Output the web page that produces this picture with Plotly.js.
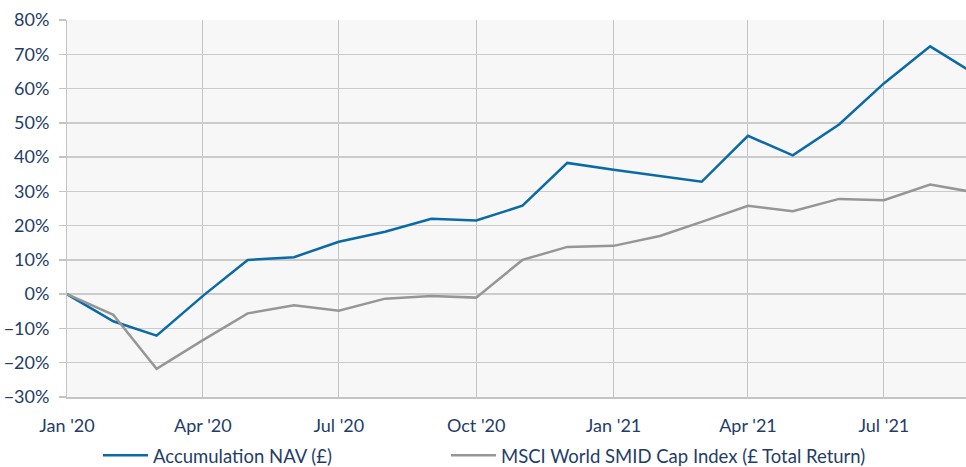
<!DOCTYPE html>
<html>
<head>
<meta charset="utf-8">
<script src="https://cdn.plot.ly/plotly-3.0.1.min.js"></script>
<style>html,body{margin:0;padding:0;background:#fff;}#chart{width:966px;height:467px;}</style>
</head>
<body>
<div id="chart"></div>
<script>
const dates = ["2020-01-01","2020-02-01","2020-03-01","2020-04-01","2020-05-01","2020-06-01","2020-07-01","2020-08-01","2020-09-01","2020-10-01","2020-11-01","2020-12-01","2021-01-01","2021-02-01","2021-03-01","2021-04-01","2021-05-01","2021-06-01","2021-07-01","2021-08-01","2021-09-01"];
const accumulationNAV = [0, -7.9, -12.1, -0.5, 10.0, 10.8, 15.3, 18.2, 22.0, 21.5, 25.8, 38.3, 36.3, 34.5, 32.8, 46.2, 40.5, 49.5, 61.5, 72.3, 64.0];
const msciSMID = [0, -6.0, -21.8, -13.4, -5.6, -3.2, -4.8, -1.3, -0.5, -1.0, 10.0, 13.8, 14.1, 17.0, 21.1, 25.8, 24.2, 27.8, 27.4, 32.0, 29.6];
const seriesNames = ["Accumulation NAV (£)", "MSCI World SMID Cap Index (£ Total Return)"];

const toFrac = a => a.map(v => v / 100);
const textColor = "#1f3d68";
const font = {family: "Lato, 'Open Sans', sans-serif", size: 18, color: textColor};
const legendFont = {family: "Lato, 'Open Sans', sans-serif", size: 18.5, color: textColor};

const traces = [
  {x: dates, y: toFrac(accumulationNAV), name: seriesNames[0], type: "scatter", mode: "lines",
   line: {color: "#0a6aa7", width: 2.5}, legend: "legend"},
  {x: dates, y: toFrac(msciSMID), name: seriesNames[1], type: "scatter", mode: "lines",
   line: {color: "#969696", width: 2.5}, legend: "legend2"}
];

const legendBase = {orientation: "h", xanchor: "left", yanchor: "middle", xref: "container", yref: "container",
                    y: 0.024, font: legendFont, itemwidth: 45, bgcolor: "rgba(0,0,0,0)", borderwidth: 0};

const layout = {
  width: 966, height: 467,
  margin: {l: 67, r: 0, t: 20, b: 70},
  paper_bgcolor: "#ffffff",
  plot_bgcolor: "#f7f7f7",
  font: font,
  showlegend: true,
  legend: Object.assign({}, legendBase, {x: 98 / 966}),
  legend2: Object.assign({}, legendBase, {x: 446 / 966}),
  xaxis: {type: "date", range: ["2020-01-01", "2021-08-25"], tick0: "2020-01-01", dtick: "M3",
          tickformat: "%b '%y", showgrid: true, gridcolor: "#c4c4c4", gridwidth: 1,
          showline: true, linecolor: "#c4c4c4", linewidth: 2, ticks: "", ticklabelstandoff: 11,
          tickfont: font, zeroline: false, fixedrange: true},
  yaxis: {range: [-0.3, 0.8], dtick: 0.1, tick0: 0, tickformat: ".0%",
          showgrid: true, gridcolor: "#cbcbcb", gridwidth: 1.5,
          showline: true, linecolor: "#c4c4c4", linewidth: 1,
          ticks: "outside", ticklen: 7, tickcolor: "#c4c4c4", tickwidth: 1.5, ticklabelstandoff: 6,
          zeroline: false, tickfont: font, fixedrange: true}
};

Plotly.newPlot("chart", traces, layout, {displayModeBar: false, staticPlot: true});
</script>
</body>
</html>
